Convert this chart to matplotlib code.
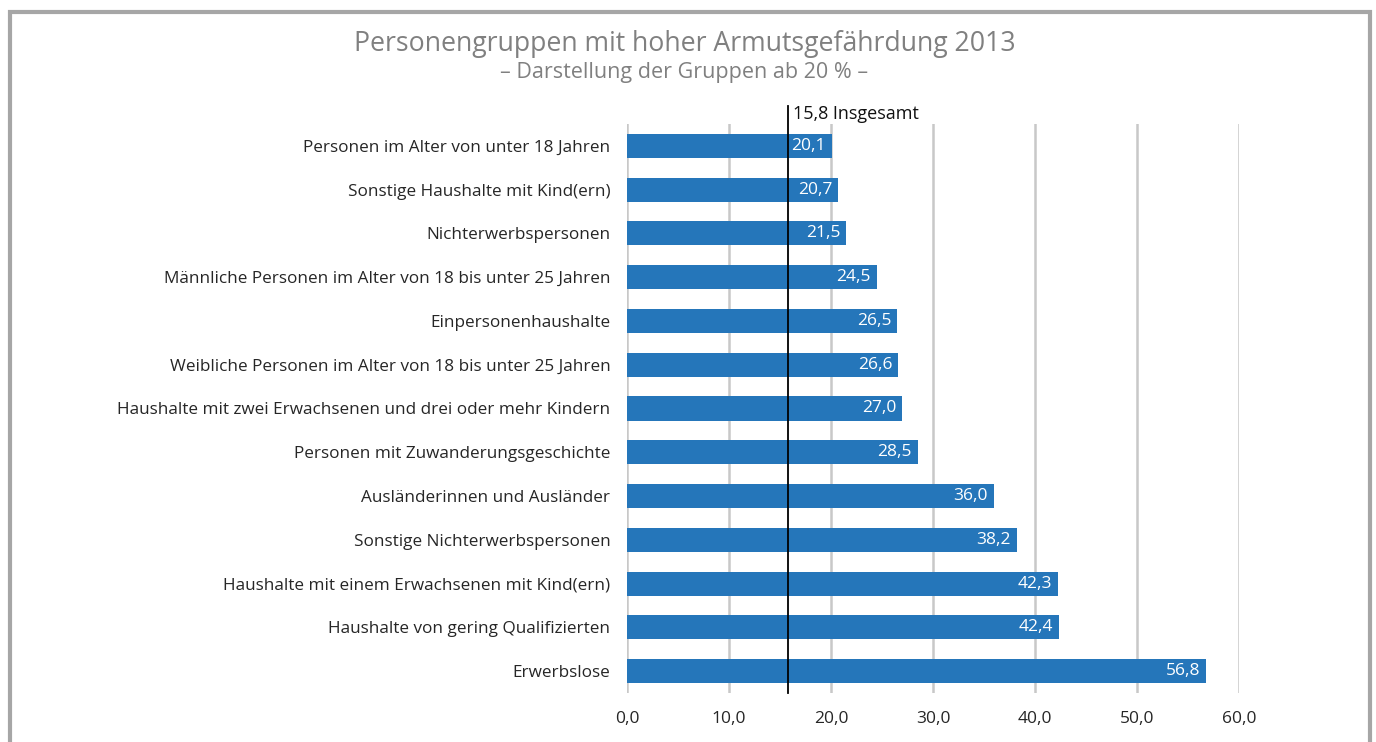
import matplotlib.pyplot as plt
from matplotlib.patches import Rectangle

plt.rcParams['font.family'] = ['Open Sans', 'DejaVu Sans']

gruppen = [
    "Personen im Alter von unter 18 Jahren",
    "Sonstige Haushalte mit Kind(ern)",
    "Nichterwerbspersonen",
    "Männliche Personen im Alter von 18 bis unter 25 Jahren",
    "Einpersonenhaushalte",
    "Weibliche Personen im Alter von 18 bis unter 25 Jahren",
    "Haushalte mit zwei Erwachsenen und drei oder mehr Kindern",
    "Personen mit Zuwanderungsgeschichte",
    "Ausländerinnen und Ausländer",
    "Sonstige Nichterwerbspersonen",
    "Haushalte mit einem Erwachsenen mit Kind(ern)",
    "Haushalte von gering Qualifizierten",
    "Erwerbslose",
]
quoten = [20.1, 20.7, 21.5, 24.5, 26.5, 26.6, 27.0, 28.5, 36.0, 38.2, 42.3, 42.4, 56.8]
insgesamt = 15.8
xticks = [0, 10, 20, 30, 40, 50, 60]

fig = plt.figure(figsize=(13.76, 7.42), dpi=100)
ax = fig.add_axes([0.4557, 0.066, 0.4447, 0.767])

pos = list(range(len(gruppen)))
ax.barh(pos, quoten, height=0.55, color='#2576BA', zorder=2)
for y, v in zip(pos, quoten):
    ax.text(v - 0.6, y, f"{v:.1f}".replace('.', ','), color='white',
            ha='right', va='center', fontsize=12.5, zorder=3)

ax.set_xlim(0, 60)
ax.set_ylim(len(gruppen) - 0.5, -0.5)
ax.set_yticks(pos)
ax.set_yticklabels(gruppen, fontsize=12.3, color='#262626')
ax.set_xticks(xticks)
ax.set_xticklabels([f"{t:.1f}".replace('.', ',') for t in xticks], fontsize=12.5, color='#262626')
ax.tick_params(length=0, pad=12)
ax.tick_params(axis='x', pad=13)
ax.grid(axis='x', color='#C8C8C8', linewidth=1.8, zorder=0)
for s in ax.spines.values():
    s.set_visible(False)

# Linie fuer Insgesamt
ax.plot([insgesamt, insgesamt], [len(gruppen) - 0.5, -0.9], color='black',
        linewidth=1.3, zorder=4, clip_on=False)
ax.text(insgesamt + 0.5, -0.72, "15,8 Insgesamt", ha='left', va='center',
        fontsize=13, color='#111111')

fig.text(0.498, 0.941, "Personengruppen mit hoher Armutsgefährdung 2013",
         ha='center', va='center', fontsize=19.2, color='#808080')
fig.text(0.497, 0.902, "– Darstellung der Gruppen ab 20 % –",
         ha='center', va='center', fontsize=15.5, color='#808080')

# Rahmen
fig.patches.append(Rectangle((9.5 / 1376, -0.1), 1360 / 1376, 1 - 11.5 / 742 + 0.1,
                             transform=fig.transFigure, fill=False,
                             edgecolor='#A6A6A6', linewidth=3))

fig.savefig('out.png', dpi=100)
